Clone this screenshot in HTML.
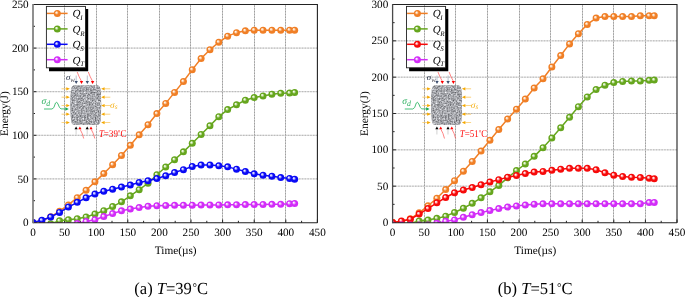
<!DOCTYPE html>
<html><head><meta charset="utf-8"><title>Energy</title><style>
html,body{margin:0;padding:0;background:#fff;width:685px;height:297px;overflow:hidden}
svg{display:block;will-change:transform}
text{font-family:"Liberation Serif", serif;text-rendering:geometricPrecision}
</style></head><body>
<svg width="685" height="297" viewBox="0 0 685 297">
<defs><radialGradient id="g_orange" cx="0.5" cy="0.5" r="0.5" fx="0.34" fy="0.34"><stop offset="0" stop-color="#ffffff"/><stop offset="0.2" stop-color="#fde2c8"/><stop offset="0.55" stop-color="#f07f26"/><stop offset="1" stop-color="#f07f26"/></radialGradient><radialGradient id="g_green" cx="0.5" cy="0.5" r="0.5" fx="0.34" fy="0.34"><stop offset="0" stop-color="#ffffff"/><stop offset="0.2" stop-color="#def0c8"/><stop offset="0.55" stop-color="#66a61e"/><stop offset="1" stop-color="#66a61e"/></radialGradient><radialGradient id="g_blue" cx="0.5" cy="0.5" r="0.5" fx="0.34" fy="0.34"><stop offset="0" stop-color="#ffffff"/><stop offset="0.2" stop-color="#c8c8ff"/><stop offset="0.55" stop-color="#0a0af5"/><stop offset="1" stop-color="#0a0af5"/></radialGradient><radialGradient id="g_mag" cx="0.5" cy="0.5" r="0.5" fx="0.34" fy="0.34"><stop offset="0" stop-color="#ffffff"/><stop offset="0.2" stop-color="#f6d0ff"/><stop offset="0.55" stop-color="#d22cf8"/><stop offset="1" stop-color="#d22cf8"/></radialGradient><radialGradient id="g_red" cx="0.5" cy="0.5" r="0.5" fx="0.34" fy="0.34"><stop offset="0" stop-color="#ffffff"/><stop offset="0.2" stop-color="#ffd0d0"/><stop offset="0.55" stop-color="#f60a0a"/><stop offset="1" stop-color="#f60a0a"/></radialGradient>
<filter id="noise" x="0" y="0" width="100%" height="100%" filterUnits="objectBoundingBox" color-interpolation-filters="sRGB">
<feTurbulence type="fractalNoise" baseFrequency="0.65" numOctaves="3" seed="4" result="n"/>
<feColorMatrix in="n" type="matrix" values="1 0 0 0 0  1 0 0 0 0  1 0 0 0 0  0 0 0 0 1" result="g"/>
<feComponentTransfer in="g" result="c"><feFuncR type="linear" slope="0.8" intercept="0.25"/><feFuncG type="linear" slope="0.8" intercept="0.255"/><feFuncB type="linear" slope="0.8" intercept="0.275"/></feComponentTransfer>
<feComposite in="c" in2="SourceGraphic" operator="in"/>
</filter>
</defs>
<rect width="685" height="297" fill="#fff"/>
<path d="M33 178.9H317.4M33 135.3H317.4M33 91.7H317.4M33 48.1H317.4" stroke="#d8d8d8" stroke-width="0.9" fill="none"/>
<path d="M33 178.9H317.4M33 135.3H317.4M33 91.7H317.4M33 48.1H317.4" stroke="#aeaeae" stroke-width="0.9" stroke-dasharray="1.5 1.3" fill="none"/>
<path d="M64.5 5.3V222.5M96.5 5.3V222.5M127.5 5.3V222.5M159.5 5.3V222.5M190.5 5.3V222.5M222.5 5.3V222.5M254.5 5.3V222.5M285.5 5.3V222.5" stroke="#cdcdcd" stroke-width="0.9" fill="none"/>
<path d="M64.5 5.3V222.5M96.5 5.3V222.5M127.5 5.3V222.5M159.5 5.3V222.5M190.5 5.3V222.5M222.5 5.3V222.5M254.5 5.3V222.5M285.5 5.3V222.5" stroke="#999999" stroke-width="0.9" stroke-dasharray="1.5 1.3" fill="none"/>
<path d="M33 222.8V219.5M64.6 222.8V219.5M96.2 222.8V219.5M127.8 222.8V219.5M159.4 222.8V219.5M191 222.8V219.5M222.6 222.8V219.5M254.2 222.8V219.5M285.8 222.8V219.5M317.4 222.8V219.5M48.8 222.8V220.8M80.4 222.8V220.8M112 222.8V220.8M143.6 222.8V220.8M175.2 222.8V220.8M206.8 222.8V220.8M238.4 222.8V220.8M270 222.8V220.8M301.6 222.8V220.8M33 222.5H36.3M33 178.9H36.3M33 135.3H36.3M33 91.7H36.3M33 48.1H36.3M33 4.5H36.3M33 200.7H35M33 157.1H35M33 113.5H35M33 69.9H35M33 26.3H35" stroke="#222" stroke-width="1" fill="none"/>
<clipPath id="clip33"><rect x="33.5" y="4.5" width="284.4" height="218.2"/></clipPath>
<g clip-path="url(#clip33)">
<polyline points="33,222.5 41.85,220.76 50.7,216.83 59.54,211.16 68.39,204.89 77.24,197.65 86.09,190.24 94.94,181.86 103.78,173.58 112.63,164.69 121.48,155.44 130.33,145.33 139.18,134.78 148.02,124.66 156.87,113.59 165.72,103.38 174.57,92.4 183.42,81.5 192.26,69.64 201.11,58.56 209.96,49.67 218.81,42.26 227.66,36.15 236.5,32.67 245.35,30.83 254.2,30.14 263.05,30.14 271.9,30.14 280.74,30.14 289.59,30.14 294.65,30.14" fill="none" stroke="#f07f26" stroke-width="1.5" stroke-linejoin="round"/>
<g fill="url(#g_orange)"><circle cx="33" cy="222.5" r="3.5"/><circle cx="41.85" cy="220.76" r="3.5"/><circle cx="50.7" cy="216.83" r="3.5"/><circle cx="59.54" cy="211.16" r="3.5"/><circle cx="68.39" cy="204.89" r="3.5"/><circle cx="77.24" cy="197.65" r="3.5"/><circle cx="86.09" cy="190.24" r="3.5"/><circle cx="94.94" cy="181.86" r="3.5"/><circle cx="103.78" cy="173.58" r="3.5"/><circle cx="112.63" cy="164.69" r="3.5"/><circle cx="121.48" cy="155.44" r="3.5"/><circle cx="130.33" cy="145.33" r="3.5"/><circle cx="139.18" cy="134.78" r="3.5"/><circle cx="148.02" cy="124.66" r="3.5"/><circle cx="156.87" cy="113.59" r="3.5"/><circle cx="165.72" cy="103.38" r="3.5"/><circle cx="174.57" cy="92.4" r="3.5"/><circle cx="183.42" cy="81.5" r="3.5"/><circle cx="192.26" cy="69.64" r="3.5"/><circle cx="201.11" cy="58.56" r="3.5"/><circle cx="209.96" cy="49.67" r="3.5"/><circle cx="218.81" cy="42.26" r="3.5"/><circle cx="227.66" cy="36.15" r="3.5"/><circle cx="236.5" cy="32.67" r="3.5"/><circle cx="245.35" cy="30.83" r="3.5"/><circle cx="254.2" cy="30.14" r="3.5"/><circle cx="263.05" cy="30.14" r="3.5"/><circle cx="271.9" cy="30.14" r="3.5"/><circle cx="280.74" cy="30.14" r="3.5"/><circle cx="289.59" cy="30.14" r="3.5"/><circle cx="294.65" cy="30.14" r="3.5"/></g>
<polyline points="33,225.55 41.85,225.55 50.7,223.81 59.54,220.76 68.39,219.71 77.24,218.66 86.09,216.92 94.94,214.04 103.78,210.64 112.63,206.54 121.48,201.83 130.33,195.82 139.18,189.63 148.02,183.26 156.87,174.71 165.72,167.04 174.57,159.72 183.42,151.87 192.26,143.32 201.11,134.43 209.96,125.8 218.81,116.64 227.66,109.58 236.5,104.78 245.35,100.16 254.2,97.54 263.05,95.89 271.9,94.14 280.74,93.18 289.59,93.1 294.65,92.48" fill="none" stroke="#66a61e" stroke-width="1.5" stroke-linejoin="round"/>
<g fill="url(#g_green)"><circle cx="33" cy="225.55" r="3.5"/><circle cx="41.85" cy="225.55" r="3.5"/><circle cx="50.7" cy="223.81" r="3.5"/><circle cx="59.54" cy="220.76" r="3.5"/><circle cx="68.39" cy="219.71" r="3.5"/><circle cx="77.24" cy="218.66" r="3.5"/><circle cx="86.09" cy="216.92" r="3.5"/><circle cx="94.94" cy="214.04" r="3.5"/><circle cx="103.78" cy="210.64" r="3.5"/><circle cx="112.63" cy="206.54" r="3.5"/><circle cx="121.48" cy="201.83" r="3.5"/><circle cx="130.33" cy="195.82" r="3.5"/><circle cx="139.18" cy="189.63" r="3.5"/><circle cx="148.02" cy="183.26" r="3.5"/><circle cx="156.87" cy="174.71" r="3.5"/><circle cx="165.72" cy="167.04" r="3.5"/><circle cx="174.57" cy="159.72" r="3.5"/><circle cx="183.42" cy="151.87" r="3.5"/><circle cx="192.26" cy="143.32" r="3.5"/><circle cx="201.11" cy="134.43" r="3.5"/><circle cx="209.96" cy="125.8" r="3.5"/><circle cx="218.81" cy="116.64" r="3.5"/><circle cx="227.66" cy="109.58" r="3.5"/><circle cx="236.5" cy="104.78" r="3.5"/><circle cx="245.35" cy="100.16" r="3.5"/><circle cx="254.2" cy="97.54" r="3.5"/><circle cx="263.05" cy="95.89" r="3.5"/><circle cx="271.9" cy="94.14" r="3.5"/><circle cx="280.74" cy="93.18" r="3.5"/><circle cx="289.59" cy="93.1" r="3.5"/><circle cx="294.65" cy="92.48" r="3.5"/></g>
<polyline points="33,222.5 41.85,220.32 50.7,217.01 59.54,212.38 68.39,207.07 77.24,202.36 86.09,197.74 94.94,194.07 103.78,191.28 112.63,189.19 121.48,187.01 130.33,185 139.18,182.48 148.02,180.73 156.87,178.55 165.72,175.76 174.57,172.53 183.42,169.66 192.26,166.43 201.11,164.95 209.96,164.95 218.81,165.73 227.66,166.87 236.5,169.13 245.35,171.49 254.2,173.84 263.05,175.24 271.9,176.2 280.74,177.59 289.59,178.38 294.65,179.16" fill="none" stroke="#0a0af5" stroke-width="1.5" stroke-linejoin="round"/>
<g fill="url(#g_blue)"><circle cx="33" cy="222.5" r="3.5"/><circle cx="41.85" cy="220.32" r="3.5"/><circle cx="50.7" cy="217.01" r="3.5"/><circle cx="59.54" cy="212.38" r="3.5"/><circle cx="68.39" cy="207.07" r="3.5"/><circle cx="77.24" cy="202.36" r="3.5"/><circle cx="86.09" cy="197.74" r="3.5"/><circle cx="94.94" cy="194.07" r="3.5"/><circle cx="103.78" cy="191.28" r="3.5"/><circle cx="112.63" cy="189.19" r="3.5"/><circle cx="121.48" cy="187.01" r="3.5"/><circle cx="130.33" cy="185" r="3.5"/><circle cx="139.18" cy="182.48" r="3.5"/><circle cx="148.02" cy="180.73" r="3.5"/><circle cx="156.87" cy="178.55" r="3.5"/><circle cx="165.72" cy="175.76" r="3.5"/><circle cx="174.57" cy="172.53" r="3.5"/><circle cx="183.42" cy="169.66" r="3.5"/><circle cx="192.26" cy="166.43" r="3.5"/><circle cx="201.11" cy="164.95" r="3.5"/><circle cx="209.96" cy="164.95" r="3.5"/><circle cx="218.81" cy="165.73" r="3.5"/><circle cx="227.66" cy="166.87" r="3.5"/><circle cx="236.5" cy="169.13" r="3.5"/><circle cx="245.35" cy="171.49" r="3.5"/><circle cx="254.2" cy="173.84" r="3.5"/><circle cx="263.05" cy="175.24" r="3.5"/><circle cx="271.9" cy="176.2" r="3.5"/><circle cx="280.74" cy="177.59" r="3.5"/><circle cx="289.59" cy="178.38" r="3.5"/><circle cx="294.65" cy="179.16" r="3.5"/></g>
<polyline points="33,225.55 41.85,225.55 50.7,225.55 59.54,225.55 68.39,225.55 77.24,223.55 86.09,221.54 94.94,219.71 103.78,216.57 112.63,213.61 121.48,210.82 130.33,208.98 139.18,207.59 148.02,206.28 156.87,205.67 165.72,205.5 174.57,205.32 183.42,205.23 192.26,205.15 201.11,205.06 209.96,204.97 218.81,204.89 227.66,204.8 236.5,204.71 245.35,204.62 254.2,204.54 263.05,204.45 271.9,204.36 280.74,204.28 289.59,203.66 294.65,203.49" fill="none" stroke="#d22cf8" stroke-width="1.5" stroke-linejoin="round"/>
<g fill="url(#g_mag)"><circle cx="33" cy="225.55" r="3.5"/><circle cx="41.85" cy="225.55" r="3.5"/><circle cx="50.7" cy="225.55" r="3.5"/><circle cx="59.54" cy="225.55" r="3.5"/><circle cx="68.39" cy="225.55" r="3.5"/><circle cx="77.24" cy="223.55" r="3.5"/><circle cx="86.09" cy="221.54" r="3.5"/><circle cx="94.94" cy="219.71" r="3.5"/><circle cx="103.78" cy="216.57" r="3.5"/><circle cx="112.63" cy="213.61" r="3.5"/><circle cx="121.48" cy="210.82" r="3.5"/><circle cx="130.33" cy="208.98" r="3.5"/><circle cx="139.18" cy="207.59" r="3.5"/><circle cx="148.02" cy="206.28" r="3.5"/><circle cx="156.87" cy="205.67" r="3.5"/><circle cx="165.72" cy="205.5" r="3.5"/><circle cx="174.57" cy="205.32" r="3.5"/><circle cx="183.42" cy="205.23" r="3.5"/><circle cx="192.26" cy="205.15" r="3.5"/><circle cx="201.11" cy="205.06" r="3.5"/><circle cx="209.96" cy="204.97" r="3.5"/><circle cx="218.81" cy="204.89" r="3.5"/><circle cx="227.66" cy="204.8" r="3.5"/><circle cx="236.5" cy="204.71" r="3.5"/><circle cx="245.35" cy="204.62" r="3.5"/><circle cx="254.2" cy="204.54" r="3.5"/><circle cx="263.05" cy="204.45" r="3.5"/><circle cx="271.9" cy="204.36" r="3.5"/><circle cx="280.74" cy="204.28" r="3.5"/><circle cx="289.59" cy="203.66" r="3.5"/><circle cx="294.65" cy="203.49" r="3.5"/></g>
</g>
<path d="M33 4.5H317.4V222.8" stroke="#222" stroke-width="1.1" fill="none"/>
<path d="M33 222.8H317.4" stroke="#222" stroke-width="1.1" fill="none"/>
<path d="M33 4V223.3" stroke="#7c7c7c" stroke-width="1.7" fill="none"/>
<g font-size="11.2" fill="#000"><text x="33" y="235.9" text-anchor="middle">0</text><text x="64.6" y="235.9" text-anchor="middle">50</text><text x="96.2" y="235.9" text-anchor="middle">100</text><text x="127.8" y="235.9" text-anchor="middle">150</text><text x="159.4" y="235.9" text-anchor="middle">200</text><text x="191" y="235.9" text-anchor="middle">250</text><text x="222.6" y="235.9" text-anchor="middle">300</text><text x="254.2" y="235.9" text-anchor="middle">350</text><text x="285.8" y="235.9" text-anchor="middle">400</text><text x="317.4" y="235.9" text-anchor="middle">450</text><text x="28.7" y="226.1" text-anchor="end">0</text><text x="28.7" y="182.5" text-anchor="end">50</text><text x="28.7" y="138.9" text-anchor="end">100</text><text x="28.7" y="95.3" text-anchor="end">150</text><text x="28.7" y="51.7" text-anchor="end">200</text><text x="28.7" y="8.1" text-anchor="end">250</text></g>
<text x="175.7" y="254" text-anchor="middle" font-size="11.3" fill="#000">Time(µs)</text>
<text transform="translate(8.1 113.6) rotate(-90)" text-anchor="middle" font-size="11.4" fill="#000">Energy(J)</text>
<path d="M85.5 9V67.8H49V71.2H88.2V9Z" fill="#000"/>
<rect x="46.4" y="6.4" width="39.1" height="61.4" fill="none" stroke="#222" stroke-width="0.9"/>
<path d="M47 13.4H67.6" stroke="#f07f26" stroke-width="1.5"/>
<circle cx="57.3" cy="13.4" r="3.5" fill="url(#g_orange)"/>
<text x="72.6" y="17.2" font-size="11" font-style="italic" fill="#000">Q<tspan font-size="7" dx="-0.4" dy="2.8">I</tspan></text>
<path d="M47 28.9H67.6" stroke="#66a61e" stroke-width="1.5"/>
<circle cx="57.3" cy="28.9" r="3.5" fill="url(#g_green)"/>
<text x="72.6" y="32.7" font-size="11" font-style="italic" fill="#000">Q<tspan font-size="7" dx="-0.4" dy="2.8">R</tspan></text>
<path d="M47 44.3H67.6" stroke="#0a0af5" stroke-width="1.5"/>
<circle cx="57.3" cy="44.3" r="3.5" fill="url(#g_blue)"/>
<text x="72.6" y="48.1" font-size="11" font-style="italic" fill="#000">Q<tspan font-size="7" dx="-0.4" dy="2.8">S</tspan></text>
<path d="M47 59.7H67.6" stroke="#d22cf8" stroke-width="1.5"/>
<circle cx="57.3" cy="59.7" r="3.5" fill="url(#g_mag)"/>
<text x="72.6" y="63.5" font-size="11" font-style="italic" fill="#000">Q<tspan font-size="7" dx="-0.4" dy="2.8">T</tspan></text>
<g transform="translate(0 0)">
<path d="M74.2 85.4H97.4Q99.9 85.6 100.5 89.2Q101.9 105 100.5 120.8Q99.9 124.6 97.4 124.8H74.2Q71.7 124.6 71.1 120.8Q69.7 105 71.1 89.2Q71.7 85.6 74.2 85.4Z" fill="#8d8d8d"/>
<path d="M74.2 85.4H97.4Q99.9 85.6 100.5 89.2Q101.9 105 100.5 120.8Q99.9 124.6 97.4 124.8H74.2Q71.7 124.6 71.1 120.8Q69.7 105 71.1 89.2Q71.7 85.6 74.2 85.4Z" fill="#8d8d8d" filter="url(#noise)"/>
<path d="M61.5 88.8H67" stroke="#f7b733" stroke-width="0.8" opacity="0.8"/>
<path d="M66.3 87.2L69.8 88.8L66.3 90.4Z" fill="#f5a800"/>
<path d="M104.5 88.8H110.3" stroke="#f7b733" stroke-width="0.8" opacity="0.8"/>
<path d="M104.6 87.2L101.1 88.8L104.6 90.4Z" fill="#f5a800"/>
<path d="M61.5 97.2H67" stroke="#f7b733" stroke-width="0.8" opacity="0.8"/>
<path d="M66.3 95.6L69.8 97.2L66.3 98.8Z" fill="#f5a800"/>
<path d="M104.5 97.2H110.3" stroke="#f7b733" stroke-width="0.8" opacity="0.8"/>
<path d="M104.6 95.6L101.1 97.2L104.6 98.8Z" fill="#f5a800"/>
<path d="M61.5 105.6H67" stroke="#f7b733" stroke-width="0.8" opacity="0.8"/>
<path d="M66.3 104L69.8 105.6L66.3 107.2Z" fill="#f5a800"/>
<path d="M104.5 105.6H110.3" stroke="#f7b733" stroke-width="0.8" opacity="0.8"/>
<path d="M104.6 104L101.1 105.6L104.6 107.2Z" fill="#f5a800"/>
<path d="M61.5 114.2H67" stroke="#f7b733" stroke-width="0.8" opacity="0.8"/>
<path d="M66.3 112.6L69.8 114.2L66.3 115.8Z" fill="#f5a800"/>
<path d="M104.5 114.2H110.3" stroke="#f7b733" stroke-width="0.8" opacity="0.8"/>
<path d="M104.6 112.6L101.1 114.2L104.6 115.8Z" fill="#f5a800"/>
<path d="M61.5 122.6H67" stroke="#f7b733" stroke-width="0.8" opacity="0.8"/>
<path d="M66.3 121L69.8 122.6L66.3 124.2Z" fill="#f5a800"/>
<path d="M104.5 122.6H110.3" stroke="#f7b733" stroke-width="0.8" opacity="0.8"/>
<path d="M104.6 121L101.1 122.6L104.6 124.2Z" fill="#f5a800"/>
<path d="M44 109H52Q54 109 55.5 103Q56.5 100.8 58 104Q59.5 108.6 61 108.9H65.5" stroke="#34b86a" stroke-width="0.9" fill="none"/>
<path d="M65.3 107.3L68.8 109L65.3 110.7Z" fill="#1aa854"/>
<path d="M76.2 75.5V81.5" stroke="#aab4c4" stroke-width="0.8"/>
<path d="M74.5 80.9L76.2 84L77.9 80.9Z" fill="#3b4d6e"/>
<path d="M87.3 75.5V81.5" stroke="#aab4c4" stroke-width="0.8"/>
<path d="M85.6 80.9L87.3 84L89 80.9Z" fill="#3b4d6e"/>
<path d="M77.2 72Q79 77 81.5 81.3" stroke="#ff5050" stroke-width="0.7" fill="none"/>
<path d="M79.8 80.9L81.5 84L83.2 80.9Z" fill="#ff0000"/>
<path d="M88.3 72Q90.1 77 92.6 81.3" stroke="#ff5050" stroke-width="0.7" fill="none"/>
<path d="M90.9 80.9L92.6 84L94.3 80.9Z" fill="#ff0000"/>
<path d="M76.1 129V134.5" stroke="#c8c8c8" stroke-width="0.8"/>
<path d="M74.5 129.3L76.1 126.5L77.7 129.3Z" fill="#000"/>
<path d="M87.2 129V134.5" stroke="#c8c8c8" stroke-width="0.8"/>
<path d="M85.6 129.3L87.2 126.5L88.8 129.3Z" fill="#000"/>
<path d="M80.2 129.5Q82.4 133 83.7 138.5" stroke="#ff5050" stroke-width="0.7" fill="none"/>
<path d="M78.3 129.3L79.9 126.5L81.5 129.3Z" fill="#ff0000"/>
<path d="M91.3 129.5Q93.5 133 94.8 138.5" stroke="#ff5050" stroke-width="0.7" fill="none"/>
<path d="M89.4 129.3L91 126.5L92.6 129.3Z" fill="#ff0000"/>
<text x="66" y="79.8" font-size="8.8" font-style="italic" fill="#1e2840">σ<tspan font-size="7" dy="2.2" fill="#4a4650">w</tspan></text>
<text x="41.4" y="104.3" font-size="9.6" font-style="italic" fill="#2eb060">σ<tspan font-size="7.8" dy="1.2">d</tspan></text>
<text x="110" y="107.8" font-size="9.4" font-style="italic" fill="#f5b21c">σ<tspan font-size="7.2" dy="1.6">s</tspan></text>
<text transform="translate(98.9 136.6) scale(0.86 1)" font-size="10.4" fill="#ff1010"><tspan font-style="italic">T</tspan>=39<tspan font-size="7.5" dy="-2.1">°</tspan><tspan dy="2.1">C</tspan></text>
</g>
<path d="M392.6 186.17H677M392.6 149.83H677M392.6 113.5H677M392.6 77.17H677M392.6 40.83H677" stroke="#d8d8d8" stroke-width="0.9" fill="none"/>
<path d="M392.6 186.17H677M392.6 149.83H677M392.6 113.5H677M392.6 77.17H677M392.6 40.83H677" stroke="#aeaeae" stroke-width="0.9" stroke-dasharray="1.5 1.3" fill="none"/>
<path d="M424.5 5.3V222.5M455.5 5.3V222.5M487.5 5.3V222.5M519.5 5.3V222.5M550.5 5.3V222.5M582.5 5.3V222.5M613.5 5.3V222.5M645.5 5.3V222.5" stroke="#cdcdcd" stroke-width="0.9" fill="none"/>
<path d="M424.5 5.3V222.5M455.5 5.3V222.5M487.5 5.3V222.5M519.5 5.3V222.5M550.5 5.3V222.5M582.5 5.3V222.5M613.5 5.3V222.5M645.5 5.3V222.5" stroke="#999999" stroke-width="0.9" stroke-dasharray="1.5 1.3" fill="none"/>
<path d="M392.6 222.8V219.5M424.2 222.8V219.5M455.8 222.8V219.5M487.4 222.8V219.5M519 222.8V219.5M550.6 222.8V219.5M582.2 222.8V219.5M613.8 222.8V219.5M645.4 222.8V219.5M677 222.8V219.5M408.4 222.8V220.8M440 222.8V220.8M471.6 222.8V220.8M503.2 222.8V220.8M534.8 222.8V220.8M566.4 222.8V220.8M598 222.8V220.8M629.6 222.8V220.8M661.2 222.8V220.8M392.6 222.5H395.9M392.6 186.17H395.9M392.6 149.83H395.9M392.6 113.5H395.9M392.6 77.17H395.9M392.6 40.83H395.9M392.6 4.5H395.9M392.6 204.33H394.6M392.6 168H394.6M392.6 131.67H394.6M392.6 95.33H394.6M392.6 59H394.6M392.6 22.67H394.6" stroke="#222" stroke-width="1" fill="none"/>
<clipPath id="clip392"><rect x="393.1" y="4.5" width="284.4" height="218.2"/></clipPath>
<g clip-path="url(#clip392)">
<polyline points="392.6,222.5 401.45,221.77 410.3,218.87 419.14,212.84 427.99,205.79 436.84,198.23 445.69,189.58 454.54,180.64 463.38,171.2 472.23,161.39 481.08,151.07 489.93,140.24 498.78,129.49 507.62,118.95 516.47,109.14 525.32,98.97 534.17,87.92 543.02,78.77 551.86,66.99 560.71,55.58 569.56,43.89 578.41,33.71 587.26,24.41 596.1,18.02 604.95,16.49 613.8,16.49 622.65,16.49 631.5,16.49 640.34,15.69 649.19,15.69 654.25,15.69" fill="none" stroke="#f07f26" stroke-width="1.5" stroke-linejoin="round"/>
<g fill="url(#g_orange)"><circle cx="392.6" cy="222.5" r="3.5"/><circle cx="401.45" cy="221.77" r="3.5"/><circle cx="410.3" cy="218.87" r="3.5"/><circle cx="419.14" cy="212.84" r="3.5"/><circle cx="427.99" cy="205.79" r="3.5"/><circle cx="436.84" cy="198.23" r="3.5"/><circle cx="445.69" cy="189.58" r="3.5"/><circle cx="454.54" cy="180.64" r="3.5"/><circle cx="463.38" cy="171.2" r="3.5"/><circle cx="472.23" cy="161.39" r="3.5"/><circle cx="481.08" cy="151.07" r="3.5"/><circle cx="489.93" cy="140.24" r="3.5"/><circle cx="498.78" cy="129.49" r="3.5"/><circle cx="507.62" cy="118.95" r="3.5"/><circle cx="516.47" cy="109.14" r="3.5"/><circle cx="525.32" cy="98.97" r="3.5"/><circle cx="534.17" cy="87.92" r="3.5"/><circle cx="543.02" cy="78.77" r="3.5"/><circle cx="551.86" cy="66.99" r="3.5"/><circle cx="560.71" cy="55.58" r="3.5"/><circle cx="569.56" cy="43.89" r="3.5"/><circle cx="578.41" cy="33.71" r="3.5"/><circle cx="587.26" cy="24.41" r="3.5"/><circle cx="596.1" cy="18.02" r="3.5"/><circle cx="604.95" cy="16.49" r="3.5"/><circle cx="613.8" cy="16.49" r="3.5"/><circle cx="622.65" cy="16.49" r="3.5"/><circle cx="631.5" cy="16.49" r="3.5"/><circle cx="640.34" cy="15.69" r="3.5"/><circle cx="649.19" cy="15.69" r="3.5"/><circle cx="654.25" cy="15.69" r="3.5"/></g>
<polyline points="392.6,225.04 401.45,225.04 410.3,223.59 419.14,220.97 427.99,220.03 436.84,218.36 445.69,216.18 454.54,212.54 463.38,208.26 472.23,203.32 481.08,197.79 489.93,191.83 498.78,185.44 507.62,177.81 516.47,170.54 525.32,164 534.17,156.37 543.02,147.65 551.86,138.06 560.71,127.74 569.56,117.35 578.41,106.67 587.26,96.93 596.1,89.52 604.95,85.16 613.8,82.54 622.65,81.45 631.5,81.09 640.34,81.09 649.19,80.36 654.25,80" fill="none" stroke="#66a61e" stroke-width="1.5" stroke-linejoin="round"/>
<g fill="url(#g_green)"><circle cx="392.6" cy="225.04" r="3.5"/><circle cx="401.45" cy="225.04" r="3.5"/><circle cx="410.3" cy="223.59" r="3.5"/><circle cx="419.14" cy="220.97" r="3.5"/><circle cx="427.99" cy="220.03" r="3.5"/><circle cx="436.84" cy="218.36" r="3.5"/><circle cx="445.69" cy="216.18" r="3.5"/><circle cx="454.54" cy="212.54" r="3.5"/><circle cx="463.38" cy="208.26" r="3.5"/><circle cx="472.23" cy="203.32" r="3.5"/><circle cx="481.08" cy="197.79" r="3.5"/><circle cx="489.93" cy="191.83" r="3.5"/><circle cx="498.78" cy="185.44" r="3.5"/><circle cx="507.62" cy="177.81" r="3.5"/><circle cx="516.47" cy="170.54" r="3.5"/><circle cx="525.32" cy="164" r="3.5"/><circle cx="534.17" cy="156.37" r="3.5"/><circle cx="543.02" cy="147.65" r="3.5"/><circle cx="551.86" cy="138.06" r="3.5"/><circle cx="560.71" cy="127.74" r="3.5"/><circle cx="569.56" cy="117.35" r="3.5"/><circle cx="578.41" cy="106.67" r="3.5"/><circle cx="587.26" cy="96.93" r="3.5"/><circle cx="596.1" cy="89.52" r="3.5"/><circle cx="604.95" cy="85.16" r="3.5"/><circle cx="613.8" cy="82.54" r="3.5"/><circle cx="622.65" cy="81.45" r="3.5"/><circle cx="631.5" cy="81.09" r="3.5"/><circle cx="640.34" cy="81.09" r="3.5"/><circle cx="649.19" cy="80.36" r="3.5"/><circle cx="654.25" cy="80" r="3.5"/></g>
<polyline points="392.6,222.5 401.45,220.97 410.3,219.23 419.14,214.07 427.99,208.55 436.84,202.81 445.69,197.5 454.54,192.78 463.38,190.09 472.23,187.55 481.08,184.71 489.93,181.95 498.78,179.63 507.62,177.23 516.47,175.56 525.32,173.52 534.17,172 543.02,171.42 551.86,170.33 560.71,169.16 569.56,168.29 578.41,168.29 587.26,168.29 596.1,169.74 604.95,172.8 613.8,175.19 622.65,176.5 631.5,177.16 640.34,177.52 649.19,178.17 654.25,178.75" fill="none" stroke="#f60a0a" stroke-width="1.5" stroke-linejoin="round"/>
<g fill="url(#g_red)"><circle cx="392.6" cy="222.5" r="3.5"/><circle cx="401.45" cy="220.97" r="3.5"/><circle cx="410.3" cy="219.23" r="3.5"/><circle cx="419.14" cy="214.07" r="3.5"/><circle cx="427.99" cy="208.55" r="3.5"/><circle cx="436.84" cy="202.81" r="3.5"/><circle cx="445.69" cy="197.5" r="3.5"/><circle cx="454.54" cy="192.78" r="3.5"/><circle cx="463.38" cy="190.09" r="3.5"/><circle cx="472.23" cy="187.55" r="3.5"/><circle cx="481.08" cy="184.71" r="3.5"/><circle cx="489.93" cy="181.95" r="3.5"/><circle cx="498.78" cy="179.63" r="3.5"/><circle cx="507.62" cy="177.23" r="3.5"/><circle cx="516.47" cy="175.56" r="3.5"/><circle cx="525.32" cy="173.52" r="3.5"/><circle cx="534.17" cy="172" r="3.5"/><circle cx="543.02" cy="171.42" r="3.5"/><circle cx="551.86" cy="170.33" r="3.5"/><circle cx="560.71" cy="169.16" r="3.5"/><circle cx="569.56" cy="168.29" r="3.5"/><circle cx="578.41" cy="168.29" r="3.5"/><circle cx="587.26" cy="168.29" r="3.5"/><circle cx="596.1" cy="169.74" r="3.5"/><circle cx="604.95" cy="172.8" r="3.5"/><circle cx="613.8" cy="175.19" r="3.5"/><circle cx="622.65" cy="176.5" r="3.5"/><circle cx="631.5" cy="177.16" r="3.5"/><circle cx="640.34" cy="177.52" r="3.5"/><circle cx="649.19" cy="178.17" r="3.5"/><circle cx="654.25" cy="178.75" r="3.5"/></g>
<polyline points="392.6,225.04 401.45,225.04 410.3,225.04 419.14,225.04 427.99,225.04 436.84,223.37 445.69,221.34 454.54,219.88 463.38,217.27 472.23,214.72 481.08,212.62 489.93,210.51 498.78,208.62 507.62,207.09 516.47,205.93 525.32,204.99 534.17,204.19 543.02,203.82 551.86,203.82 560.71,203.75 569.56,203.75 578.41,203.75 587.26,203.75 596.1,203.75 604.95,203.75 613.8,203.75 622.65,203.75 631.5,203.75 640.34,203.68 649.19,202.59 654.25,202.44" fill="none" stroke="#d22cf8" stroke-width="1.5" stroke-linejoin="round"/>
<g fill="url(#g_mag)"><circle cx="392.6" cy="225.04" r="3.5"/><circle cx="401.45" cy="225.04" r="3.5"/><circle cx="410.3" cy="225.04" r="3.5"/><circle cx="419.14" cy="225.04" r="3.5"/><circle cx="427.99" cy="225.04" r="3.5"/><circle cx="436.84" cy="223.37" r="3.5"/><circle cx="445.69" cy="221.34" r="3.5"/><circle cx="454.54" cy="219.88" r="3.5"/><circle cx="463.38" cy="217.27" r="3.5"/><circle cx="472.23" cy="214.72" r="3.5"/><circle cx="481.08" cy="212.62" r="3.5"/><circle cx="489.93" cy="210.51" r="3.5"/><circle cx="498.78" cy="208.62" r="3.5"/><circle cx="507.62" cy="207.09" r="3.5"/><circle cx="516.47" cy="205.93" r="3.5"/><circle cx="525.32" cy="204.99" r="3.5"/><circle cx="534.17" cy="204.19" r="3.5"/><circle cx="543.02" cy="203.82" r="3.5"/><circle cx="551.86" cy="203.82" r="3.5"/><circle cx="560.71" cy="203.75" r="3.5"/><circle cx="569.56" cy="203.75" r="3.5"/><circle cx="578.41" cy="203.75" r="3.5"/><circle cx="587.26" cy="203.75" r="3.5"/><circle cx="596.1" cy="203.75" r="3.5"/><circle cx="604.95" cy="203.75" r="3.5"/><circle cx="613.8" cy="203.75" r="3.5"/><circle cx="622.65" cy="203.75" r="3.5"/><circle cx="631.5" cy="203.75" r="3.5"/><circle cx="640.34" cy="203.68" r="3.5"/><circle cx="649.19" cy="202.59" r="3.5"/><circle cx="654.25" cy="202.44" r="3.5"/></g>
</g>
<path d="M392.6 4.5H677V222.8" stroke="#222" stroke-width="1.1" fill="none"/>
<path d="M392.6 222.8H677" stroke="#222" stroke-width="1.1" fill="none"/>
<path d="M392.6 4V223.3" stroke="#4a4a4a" stroke-width="1.3" fill="none"/>
<g font-size="11.2" fill="#000"><text x="392.6" y="235.9" text-anchor="middle">0</text><text x="424.2" y="235.9" text-anchor="middle">50</text><text x="455.8" y="235.9" text-anchor="middle">100</text><text x="487.4" y="235.9" text-anchor="middle">150</text><text x="519" y="235.9" text-anchor="middle">200</text><text x="550.6" y="235.9" text-anchor="middle">250</text><text x="582.2" y="235.9" text-anchor="middle">300</text><text x="613.8" y="235.9" text-anchor="middle">350</text><text x="645.4" y="235.9" text-anchor="middle">400</text><text x="677" y="235.9" text-anchor="middle">450</text><text x="388.3" y="226.1" text-anchor="end">0</text><text x="388.3" y="189.77" text-anchor="end">50</text><text x="388.3" y="153.43" text-anchor="end">100</text><text x="388.3" y="117.1" text-anchor="end">150</text><text x="388.3" y="80.77" text-anchor="end">200</text><text x="388.3" y="44.43" text-anchor="end">250</text><text x="388.3" y="8.1" text-anchor="end">300</text></g>
<text x="535.3" y="254" text-anchor="middle" font-size="11.3" fill="#000">Time(µs)</text>
<text transform="translate(367.7 113.6) rotate(-90)" text-anchor="middle" font-size="11.4" fill="#000">Energy(J)</text>
<path d="M445.6 9V67.8H409.1V71.2H448.3V9Z" fill="#000"/>
<rect x="406.5" y="6.4" width="39.1" height="61.4" fill="none" stroke="#222" stroke-width="0.9"/>
<path d="M407.1 13.4H427.7" stroke="#f07f26" stroke-width="1.5"/>
<circle cx="417.4" cy="13.4" r="3.5" fill="url(#g_orange)"/>
<text x="432.7" y="17.2" font-size="11" font-style="italic" fill="#000">Q<tspan font-size="7" dx="-0.4" dy="2.8">I</tspan></text>
<path d="M407.1 28.9H427.7" stroke="#66a61e" stroke-width="1.5"/>
<circle cx="417.4" cy="28.9" r="3.5" fill="url(#g_green)"/>
<text x="432.7" y="32.7" font-size="11" font-style="italic" fill="#000">Q<tspan font-size="7" dx="-0.4" dy="2.8">R</tspan></text>
<path d="M407.1 44.3H427.7" stroke="#f60a0a" stroke-width="1.5"/>
<circle cx="417.4" cy="44.3" r="3.5" fill="url(#g_red)"/>
<text x="432.7" y="48.1" font-size="11" font-style="italic" fill="#000">Q<tspan font-size="7" dx="-0.4" dy="2.8">S</tspan></text>
<path d="M407.1 59.7H427.7" stroke="#d22cf8" stroke-width="1.5"/>
<circle cx="417.4" cy="59.7" r="3.5" fill="url(#g_mag)"/>
<text x="432.7" y="63.5" font-size="11" font-style="italic" fill="#000">Q<tspan font-size="7" dx="-0.4" dy="2.8">T</tspan></text>
<g transform="translate(360.8 0)">
<path d="M74.2 85.4H97.4Q99.9 85.6 100.5 89.2Q101.9 105 100.5 120.8Q99.9 124.6 97.4 124.8H74.2Q71.7 124.6 71.1 120.8Q69.7 105 71.1 89.2Q71.7 85.6 74.2 85.4Z" fill="#8d8d8d"/>
<path d="M74.2 85.4H97.4Q99.9 85.6 100.5 89.2Q101.9 105 100.5 120.8Q99.9 124.6 97.4 124.8H74.2Q71.7 124.6 71.1 120.8Q69.7 105 71.1 89.2Q71.7 85.6 74.2 85.4Z" fill="#8d8d8d" filter="url(#noise)"/>
<path d="M61.5 88.8H67" stroke="#f7b733" stroke-width="0.8" opacity="0.8"/>
<path d="M66.3 87.2L69.8 88.8L66.3 90.4Z" fill="#f5a800"/>
<path d="M104.5 88.8H110.3" stroke="#f7b733" stroke-width="0.8" opacity="0.8"/>
<path d="M104.6 87.2L101.1 88.8L104.6 90.4Z" fill="#f5a800"/>
<path d="M61.5 97.2H67" stroke="#f7b733" stroke-width="0.8" opacity="0.8"/>
<path d="M66.3 95.6L69.8 97.2L66.3 98.8Z" fill="#f5a800"/>
<path d="M104.5 97.2H110.3" stroke="#f7b733" stroke-width="0.8" opacity="0.8"/>
<path d="M104.6 95.6L101.1 97.2L104.6 98.8Z" fill="#f5a800"/>
<path d="M61.5 105.6H67" stroke="#f7b733" stroke-width="0.8" opacity="0.8"/>
<path d="M66.3 104L69.8 105.6L66.3 107.2Z" fill="#f5a800"/>
<path d="M104.5 105.6H110.3" stroke="#f7b733" stroke-width="0.8" opacity="0.8"/>
<path d="M104.6 104L101.1 105.6L104.6 107.2Z" fill="#f5a800"/>
<path d="M61.5 114.2H67" stroke="#f7b733" stroke-width="0.8" opacity="0.8"/>
<path d="M66.3 112.6L69.8 114.2L66.3 115.8Z" fill="#f5a800"/>
<path d="M104.5 114.2H110.3" stroke="#f7b733" stroke-width="0.8" opacity="0.8"/>
<path d="M104.6 112.6L101.1 114.2L104.6 115.8Z" fill="#f5a800"/>
<path d="M61.5 122.6H67" stroke="#f7b733" stroke-width="0.8" opacity="0.8"/>
<path d="M66.3 121L69.8 122.6L66.3 124.2Z" fill="#f5a800"/>
<path d="M104.5 122.6H110.3" stroke="#f7b733" stroke-width="0.8" opacity="0.8"/>
<path d="M104.6 121L101.1 122.6L104.6 124.2Z" fill="#f5a800"/>
<path d="M44 109H52Q54 109 55.5 103Q56.5 100.8 58 104Q59.5 108.6 61 108.9H65.5" stroke="#34b86a" stroke-width="0.9" fill="none"/>
<path d="M65.3 107.3L68.8 109L65.3 110.7Z" fill="#1aa854"/>
<path d="M76.2 75.5V81.5" stroke="#aab4c4" stroke-width="0.8"/>
<path d="M74.5 80.9L76.2 84L77.9 80.9Z" fill="#3b4d6e"/>
<path d="M87.3 75.5V81.5" stroke="#aab4c4" stroke-width="0.8"/>
<path d="M85.6 80.9L87.3 84L89 80.9Z" fill="#3b4d6e"/>
<path d="M77.2 72Q79 77 81.5 81.3" stroke="#ff5050" stroke-width="0.7" fill="none"/>
<path d="M79.8 80.9L81.5 84L83.2 80.9Z" fill="#ff0000"/>
<path d="M88.3 72Q90.1 77 92.6 81.3" stroke="#ff5050" stroke-width="0.7" fill="none"/>
<path d="M90.9 80.9L92.6 84L94.3 80.9Z" fill="#ff0000"/>
<path d="M76.1 129V134.5" stroke="#c8c8c8" stroke-width="0.8"/>
<path d="M74.5 129.3L76.1 126.5L77.7 129.3Z" fill="#000"/>
<path d="M87.2 129V134.5" stroke="#c8c8c8" stroke-width="0.8"/>
<path d="M85.6 129.3L87.2 126.5L88.8 129.3Z" fill="#000"/>
<path d="M80.2 129.5Q82.4 133 83.7 138.5" stroke="#ff5050" stroke-width="0.7" fill="none"/>
<path d="M78.3 129.3L79.9 126.5L81.5 129.3Z" fill="#ff0000"/>
<path d="M91.3 129.5Q93.5 133 94.8 138.5" stroke="#ff5050" stroke-width="0.7" fill="none"/>
<path d="M89.4 129.3L91 126.5L92.6 129.3Z" fill="#ff0000"/>
<text x="66" y="79.8" font-size="8.8" font-style="italic" fill="#1e2840">σ<tspan font-size="7" dy="2.2" fill="#4a4650">w</tspan></text>
<text x="41.4" y="104.3" font-size="9.6" font-style="italic" fill="#2eb060">σ<tspan font-size="7.8" dy="1.2">d</tspan></text>
<text x="110" y="107.8" font-size="9.4" font-style="italic" fill="#f5b21c">σ<tspan font-size="7.2" dy="1.6">s</tspan></text>
<text transform="translate(98.9 136.6) scale(0.86 1)" font-size="10.4" fill="#ff1010"><tspan font-style="italic">T</tspan>=51<tspan font-size="7.5" dy="-2.1">°</tspan><tspan dy="2.1">C</tspan></text>
</g>
<text transform="translate(171.2 293.8) scale(0.98 1)" text-anchor="middle" font-size="16.9" fill="#000">(a) <tspan font-style="italic">T</tspan>=39<tspan font-size="11.5" dx="0.7" dy="-3.3">°</tspan><tspan dy="3.3">C</tspan></text>
<text transform="translate(535.2 293.8) scale(0.98 1)" text-anchor="middle" font-size="16.9" fill="#000">(b) <tspan font-style="italic">T</tspan>=51<tspan font-size="11.5" dx="0.7" dy="-3.3">°</tspan><tspan dy="3.3">C</tspan></text>
</svg>
</body></html>
